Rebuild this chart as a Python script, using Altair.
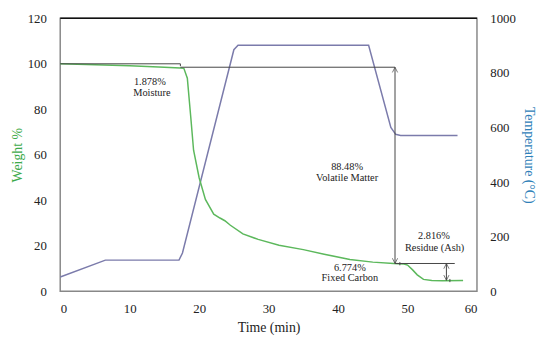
import altair as alt
import pandas as pd

# Weight % curve (green)
time_w = [0, 5, 10, 15, 17.3, 17.8, 18.3, 18.8, 19.2, 20.0, 20.9, 22.1, 23.0, 23.7, 24.5,
          26.3, 28.5, 31.5, 35, 38, 41.7, 45, 48, 49.5, 50.0, 50.7, 51.4, 52.3, 53.5, 55, 58.0]
weight = [100, 99.6, 99.1, 98.5, 98.2, 98.0, 93.7, 76.4, 62, 49.9, 40.4, 33.9, 32.2, 31, 29,
          25.2, 22.8, 20.2, 18.3, 16.3, 14.0, 12.8, 12.2, 12.0, 11.5, 9.5, 7.2, 5.2, 4.7, 4.6, 4.7]

# Temperature curve (right axis)
time_t = [0, 6.5, 17.1, 17.6, 25.0, 25.6, 44.4, 47.6, 48.3, 49.0, 57.2]
temp = [52, 114, 114, 140, 885, 901, 901, 600, 575, 571, 571]

# Annotation segments (weight units)
seg_x = [0, 17.3, 17.3, 48.2, 48.2, 48.9, 55.6, 56.1]
seg_y = [100, 100, 98.5, 98.5, 12.2, 12.8, 12.2, 5.4]
seg_x2 = [17.3, 17.3, 48.2, 48.2, 56.8, 48.9, 55.6, 56.1]
seg_y2 = [100, 99.0, 98.5, 12.2, 12.2, 11.4, 4.8, 4.0]

# Arrow heads
arr_x = [48.2, 48.2, 55.6, 55.6]
arr_y = [98.5, 12.2, 12.2, 4.8]
arr_dir = ["up", "down", "up", "down"]

# Labels
lab_text = ["1.878%", "Moisture", "88.48%", "Volatile Matter",
            "2.816%", "Residue (Ash)", "6.774%", "Fixed Carbon"]
lab_x = [12.9, 13.2, 41.3, 41.3, 53.8, 53.9, 41.7, 41.7]
lab_y = [91.9, 87.1, 54.8, 49.9, 24.2, 19.2, 10.2, 5.8]

FONT = "Liberation Serif"
W, H = 423, 277

df_w = pd.DataFrame({"t": time_w, "w": weight})
df_t = pd.DataFrame({"t": time_t, "T": temp})
df_s = pd.DataFrame({"x": seg_x, "y": seg_y, "x2": seg_x2, "y2": seg_y2})
df_a = pd.DataFrame({"x": arr_x, "y": arr_y, "d": arr_dir})
df_l = pd.DataFrame({"x": lab_x, "y": lab_y, "text": lab_text})

xscale = alt.Scale(domain=[0, 60], nice=False)
wscale = alt.Scale(domain=[0, 120], nice=False)

xaxis = alt.Axis(values=[0, 10, 20, 30, 40, 50, 60], title="Time (min)", grid=False,
                 ticks=False, domain=False, labelPadding=12, titlePadding=5, format="d")

temp_line = alt.Chart(df_t).mark_line(color="#7b7bab", strokeWidth=1.5).encode(
    x=alt.X("t:Q", scale=xscale, axis=xaxis),
    y=alt.Y("T:Q", scale=alt.Scale(domain=[0, 1000], nice=False),
            axis=alt.Axis(orient="right", values=[0, 200, 400, 600, 800, 1000], format="d",
                          title="Temperature (°C)", titleColor="#2e80b8", grid=False,
                          ticks=False, domain=False, labelPadding=13, titlePadding=6,
                          titleAngle=90)),
)

weight_line = alt.Chart(df_w).mark_line(color="#5cb85c", strokeWidth=1.5).encode(
    x=alt.X("t:Q", scale=xscale),
    y=alt.Y("w:Q", scale=wscale,
            axis=alt.Axis(orient="left", values=[0, 20, 40, 60, 80, 100, 120], format="d",
                          title="Weight %", titleColor="#3daa4a", grid=False,
                          ticks=False, domain=False, labelPadding=14, titlePadding=3)),
)

segs = alt.Chart(df_s).mark_rule(color="#444", strokeWidth=1).encode(
    x=alt.X("x:Q", scale=xscale), x2="x2:Q",
    y=alt.Y("y:Q", scale=wscale, axis=None), y2="y2:Q",
)

arrows = alt.Chart(df_a).mark_point(filled=False, color="#444", size=28, strokeWidth=1).encode(
    x=alt.X("x:Q", scale=xscale),
    y=alt.Y("y:Q", scale=wscale, axis=None),
    shape=alt.Shape("d:N", scale=alt.Scale(domain=["up", "down"],
                                            range=["M-1,2L0,0L1,2", "M-1,-2L0,0L1,-2"]),
                    legend=None),
)

labels = alt.Chart(df_l).mark_text(font=FONT, fontSize=10.5, color="#222").encode(
    x=alt.X("x:Q", scale=xscale),
    y=alt.Y("y:Q", scale=wscale, axis=None),
    text="text:N",
)

top = alt.Chart(pd.DataFrame({"a": [0]})).mark_rule(color="#111", strokeWidth=1.5).encode(
    x=alt.value(0), x2=alt.value(W), y=alt.value(0)
)

chart = alt.layer(temp_line, weight_line, segs, arrows, labels, top).resolve_scale(
    y="independent"
).properties(
    width=W, height=H,
    autosize=alt.AutoSizeParams(type="none"),
    padding={"left": 53, "top": 8, "right": 66, "bottom": 46},
).configure_view(
    stroke="#888", strokeWidth=1.5
).configure_axis(
    labelFont=FONT, titleFont=FONT, labelFontSize=13, titleFontSize=14,
    labelColor="#222", titleColor="#222", titleFontWeight="normal",
).configure_text(font=FONT)

chart.save("out.html", embed_options={"renderer": "svg", "actions": False})
